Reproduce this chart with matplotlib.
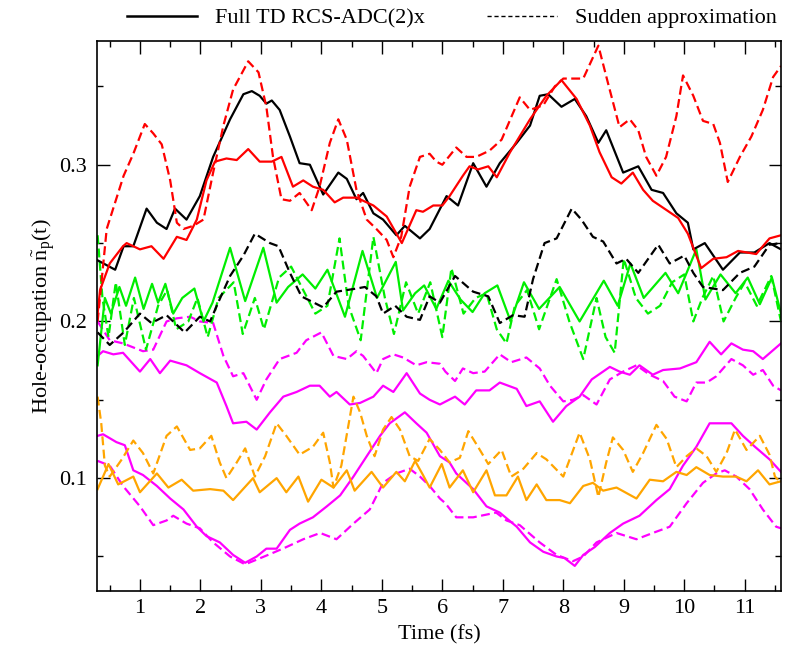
import numpy as np
import matplotlib.pyplot as plt
from matplotlib.lines import Line2D
from matplotlib.ticker import MultipleLocator

plt.rcParams['font.family'] = 'Liberation Serif'
plt.rcParams['mathtext.fontset'] = 'custom'
plt.rcParams['mathtext.rm'] = 'Liberation Serif'
plt.rcParams['mathtext.it'] = 'Liberation Serif:italic'

# (time in fs, hole occupation)
black_full = [(0.3, 0.239), (0.59, 0.233), (0.73, 0.248), (0.89, 0.248), (1.11, 0.272), (1.28, 0.263),
              (1.44, 0.259), (1.58, 0.272), (1.77, 0.265), (1.99, 0.280), (2.21, 0.305), (2.49, 0.329),
              (2.71, 0.345), (2.85, 0.347), (2.98, 0.344), (3.09, 0.339), (3.18, 0.341), (3.31, 0.335),
              (3.48, 0.318), (3.64, 0.301), (3.81, 0.300), (4.03, 0.281), (4.28, 0.295), (4.42, 0.291),
              (4.58, 0.278), (4.69, 0.282), (4.86, 0.269), (5.02, 0.265), (5.24, 0.255), (5.38, 0.261),
              (5.63, 0.253), (5.79, 0.259), (6.07, 0.280), (6.26, 0.274), (6.51, 0.301), (6.73, 0.286),
              (6.95, 0.301), (7.23, 0.314), (7.45, 0.325), (7.61, 0.344), (7.75, 0.345), (7.97, 0.337),
              (8.19, 0.342), (8.38, 0.331), (8.58, 0.314), (8.71, 0.322), (8.99, 0.295), (9.24, 0.299),
              (9.46, 0.284), (9.65, 0.282), (9.87, 0.269), (10.06, 0.263), (10.15, 0.246), (10.34, 0.250),
              (10.64, 0.233), (10.92, 0.244), (11.16, 0.244), (11.41, 0.250), (11.6, 0.246)]

black_sudden = [(0.3, 0.193), (0.5, 0.185), (0.73, 0.193), (1.0, 0.205), (1.19, 0.199), (1.44, 0.204),
                (1.74, 0.193), (1.99, 0.203), (2.16, 0.200), (2.27, 0.210), (2.49, 0.229), (2.71, 0.242),
                (2.9, 0.256), (3.15, 0.250), (3.29, 0.248), (3.48, 0.231), (3.67, 0.216), (4.03, 0.209),
                (4.25, 0.219), (4.58, 0.221), (4.72, 0.222), (4.91, 0.216), (5.02, 0.205), (5.22, 0.210),
                (5.41, 0.203), (5.63, 0.201), (5.79, 0.216), (5.96, 0.212), (6.21, 0.229), (6.51, 0.219),
                (6.76, 0.216), (6.95, 0.199), (7.17, 0.204), (7.36, 0.203), (7.50, 0.227), (7.69, 0.250),
                (7.89, 0.253), (8.14, 0.272), (8.30, 0.265), (8.49, 0.254), (8.66, 0.251), (8.88, 0.237),
                (9.04, 0.240), (9.24, 0.231), (9.57, 0.249), (9.76, 0.237), (10.0, 0.242), (10.15, 0.231),
                (10.31, 0.222), (10.64, 0.220), (10.92, 0.231), (11.16, 0.235), (11.41, 0.249), (11.6, 0.250)]

red_full = [(0.3, 0.205), (0.34, 0.220), (0.5, 0.237), (0.72, 0.248), (0.78, 0.250), (1.0, 0.246),
            (1.19, 0.248), (1.39, 0.240), (1.61, 0.254), (1.77, 0.252), (1.94, 0.265), (2.1, 0.290),
            (2.24, 0.302), (2.43, 0.304), (2.6, 0.303), (2.79, 0.310), (2.98, 0.302), (3.18, 0.302),
            (3.34, 0.305), (3.53, 0.286), (3.7, 0.290), (3.86, 0.286), (4.03, 0.284), (4.22, 0.276),
            (4.36, 0.279), (4.58, 0.279), (4.86, 0.274), (5.08, 0.267), (5.33, 0.250), (5.57, 0.271),
            (5.68, 0.270), (5.85, 0.274), (6.0, 0.274), (6.12, 0.280), (6.34, 0.293), (6.45, 0.299),
            (6.59, 0.297), (6.76, 0.299), (6.90, 0.292), (7.12, 0.308), (7.45, 0.329), (7.72, 0.344),
            (7.97, 0.354), (8.22, 0.342), (8.44, 0.325), (8.60, 0.308), (8.80, 0.292), (8.96, 0.288),
            (9.15, 0.295), (9.32, 0.284), (9.48, 0.277), (9.71, 0.271), (9.90, 0.266), (10.06, 0.256),
            (10.20, 0.242), (10.28, 0.234), (10.48, 0.240), (10.70, 0.241), (10.89, 0.245), (11.19, 0.243),
            (11.41, 0.253), (11.6, 0.255)]

red_sudden = [(0.3, 0.200), (0.45, 0.259), (0.59, 0.276), (0.73, 0.293), (0.89, 0.307), (1.08, 0.326),
              (1.22, 0.320), (1.36, 0.313), (1.5, 0.290), (1.61, 0.263), (1.72, 0.259), (1.88, 0.261),
              (2.05, 0.265), (2.21, 0.295), (2.38, 0.325), (2.54, 0.348), (2.79, 0.366), (2.96, 0.359),
              (3.09, 0.337), (3.2, 0.305), (3.34, 0.278), (3.48, 0.277), (3.64, 0.282), (3.84, 0.271),
              (3.97, 0.286), (4.14, 0.314), (4.28, 0.329), (4.42, 0.316), (4.58, 0.284), (4.75, 0.265),
              (4.91, 0.259), (5.08, 0.252), (5.19, 0.241), (5.32, 0.254), (5.46, 0.286), (5.63, 0.305),
              (5.79, 0.307), (5.9, 0.302), (6.0, 0.300), (6.23, 0.311), (6.4, 0.305), (6.56, 0.305),
              (6.78, 0.309), (6.98, 0.316), (7.28, 0.343), (7.45, 0.335), (7.67, 0.338), (7.86, 0.350),
              (8.0, 0.355), (8.33, 0.355), (8.58, 0.376), (8.74, 0.352), (8.93, 0.324), (9.10, 0.329),
              (9.24, 0.322), (9.37, 0.305), (9.54, 0.293), (9.7, 0.305), (9.87, 0.331), (9.98, 0.357),
              (10.15, 0.344), (10.31, 0.328), (10.48, 0.326), (10.59, 0.314), (10.72, 0.289), (10.92, 0.305),
              (11.11, 0.318), (11.3, 0.335), (11.47, 0.356), (11.6, 0.363)]

green_full = [(0.3, 0.172), (0.42, 0.215), (0.52, 0.205), (0.66, 0.222), (0.77, 0.210), (0.92, 0.228),
              (1.06, 0.208), (1.2, 0.224), (1.3, 0.212), (1.42, 0.224), (1.55, 0.205), (1.7, 0.215),
              (1.9, 0.221), (2.05, 0.200), (2.2, 0.212), (2.49, 0.247), (2.74, 0.213), (3.04, 0.247),
              (3.26, 0.212), (3.45, 0.222), (3.69, 0.230), (3.9, 0.221), (4.1, 0.233), (4.39, 0.203),
              (4.68, 0.245), (4.92, 0.215), (5.23, 0.238), (5.35, 0.207), (5.55, 0.218), (5.7, 0.223),
              (5.9, 0.208), (6.1, 0.226), (6.3, 0.214), (6.5, 0.206), (6.7, 0.218), (6.91, 0.223),
              (7.13, 0.200), (7.35, 0.225), (7.6, 0.208), (7.94, 0.222), (8.27, 0.200), (8.67, 0.226),
              (8.9, 0.210), (9.11, 0.237), (9.33, 0.215), (9.69, 0.231), (9.9, 0.218), (10.2, 0.246),
              (10.35, 0.214), (10.6, 0.230), (10.85, 0.218), (11.05, 0.228), (11.25, 0.211), (11.45, 0.228),
              (11.6, 0.205)]

green_sudden = [(0.3, 0.255), (0.38, 0.215), (0.48, 0.190), (0.6, 0.225), (0.75, 0.185), (0.9, 0.215),
                (1.1, 0.182), (1.3, 0.210), (1.45, 0.220), (1.6, 0.195), (1.8, 0.200), (1.95, 0.215),
                (2.12, 0.190), (2.3, 0.215), (2.55, 0.225), (2.7, 0.192), (2.9, 0.215), (3.05, 0.195),
                (3.3, 0.228), (3.5, 0.235), (3.7, 0.220), (3.9, 0.205), (4.1, 0.210), (4.3, 0.253),
                (4.45, 0.210), (4.65, 0.188), (4.86, 0.254), (5.05, 0.215), (5.2, 0.192), (5.4, 0.225),
                (5.6, 0.205), (5.8, 0.225), (6.0, 0.190), (6.15, 0.234), (6.35, 0.205), (6.55, 0.215),
                (6.73, 0.218), (6.9, 0.195), (7.06, 0.186), (7.2, 0.210), (7.4, 0.220), (7.6, 0.195),
                (7.89, 0.227), (8.1, 0.200), (8.33, 0.176), (8.55, 0.215), (8.7, 0.190), (8.85, 0.180),
                (9.0, 0.240), (9.2, 0.215), (9.4, 0.205), (9.6, 0.210), (9.8, 0.225), (10.0, 0.230),
                (10.15, 0.200), (10.3, 0.215), (10.48, 0.229), (10.65, 0.200), (10.85, 0.215), (11.0, 0.225),
                (11.2, 0.210), (11.44, 0.229), (11.6, 0.200)]

magenta_a_full = [(0.3, 0.178), (0.39, 0.181), (0.56, 0.179), (0.72, 0.180), (1.0, 0.168), (1.17, 0.176),
                  (1.33, 0.167), (1.5, 0.175), (1.77, 0.172), (1.99, 0.167), (2.27, 0.161), (2.43, 0.146),
                  (2.54, 0.135), (2.76, 0.136), (2.93, 0.131), (3.15, 0.142), (3.37, 0.152), (3.59, 0.155),
                  (3.81, 0.159), (3.97, 0.159), (4.14, 0.152), (4.25, 0.155), (4.47, 0.147), (4.64, 0.148),
                  (4.86, 0.152), (5.02, 0.159), (5.19, 0.155), (5.41, 0.167), (5.63, 0.154), (5.79, 0.150),
                  (5.96, 0.147), (6.21, 0.152), (6.37, 0.147), (6.56, 0.156), (6.78, 0.156), (6.95, 0.161),
                  (7.23, 0.157), (7.39, 0.146), (7.61, 0.149), (7.83, 0.136), (8.05, 0.146), (8.27, 0.152),
                  (8.47, 0.163), (8.77, 0.171), (8.93, 0.168), (9.10, 0.166), (9.26, 0.172), (9.48, 0.166),
                  (9.65, 0.169), (9.93, 0.170), (10.2, 0.174), (10.42, 0.187), (10.61, 0.179), (10.78, 0.186),
                  (10.97, 0.182), (11.14, 0.181), (11.3, 0.176), (11.6, 0.186)]

magenta_a_sudden = [(0.3, 0.200), (0.5, 0.188), (0.72, 0.186), (1.05, 0.181), (1.22, 0.182), (1.44, 0.200),
                    (1.61, 0.202), (1.83, 0.203), (1.99, 0.200), (2.21, 0.199), (2.38, 0.178), (2.54, 0.165),
                    (2.71, 0.167), (2.93, 0.150), (3.09, 0.163), (3.31, 0.176), (3.59, 0.180), (3.75, 0.188),
                    (4.0, 0.193), (4.2, 0.178), (4.42, 0.176), (4.58, 0.181), (4.69, 0.178), (4.91, 0.167),
                    (5.02, 0.176), (5.19, 0.179), (5.35, 0.177), (5.57, 0.172), (5.74, 0.174), (5.96, 0.173),
                    (6.05, 0.168), (6.21, 0.162), (6.34, 0.170), (6.51, 0.167), (6.70, 0.168), (6.95, 0.179),
                    (7.14, 0.174), (7.39, 0.177), (7.61, 0.170), (7.78, 0.159), (8.0, 0.149), (8.16, 0.150),
                    (8.33, 0.153), (8.55, 0.147), (8.77, 0.163), (8.99, 0.168), (9.21, 0.172), (9.43, 0.166),
                    (9.65, 0.162), (9.84, 0.152), (10.04, 0.149), (10.2, 0.161), (10.37, 0.161), (10.53, 0.165),
                    (10.78, 0.176), (10.97, 0.172), (11.14, 0.166), (11.3, 0.169), (11.47, 0.159), (11.6, 0.156)]

magenta_b_full = [(0.3, 0.127), (0.39, 0.128), (0.61, 0.123), (0.75, 0.121), (0.89, 0.105), (1.05, 0.102),
                  (1.28, 0.095), (1.5, 0.087), (1.72, 0.080), (1.94, 0.069), (2.1, 0.063), (2.32, 0.059),
                  (2.54, 0.051), (2.74, 0.046), (2.93, 0.050), (3.09, 0.055), (3.26, 0.055), (3.48, 0.067),
                  (3.64, 0.071), (3.86, 0.075), (4.09, 0.082), (4.31, 0.089), (4.53, 0.101), (4.75, 0.114),
                  (4.97, 0.127), (5.13, 0.135), (5.38, 0.142), (5.57, 0.135), (5.74, 0.129), (5.96, 0.114),
                  (6.12, 0.110), (6.23, 0.103), (6.51, 0.093), (6.73, 0.082), (6.95, 0.078), (7.23, 0.069),
                  (7.45, 0.059), (7.67, 0.053), (7.89, 0.050), (8.02, 0.049), (8.19, 0.044), (8.33, 0.051),
                  (8.52, 0.056), (8.77, 0.065), (8.99, 0.071), (9.26, 0.076), (9.54, 0.086), (9.76, 0.093),
                  (9.98, 0.108), (10.2, 0.120), (10.42, 0.135), (10.59, 0.135), (10.78, 0.135), (10.97, 0.127),
                  (11.17, 0.120), (11.41, 0.112), (11.6, 0.104)]

magenta_b_sudden = [(0.3, 0.111), (0.5, 0.108), (0.72, 0.095), (1.0, 0.082), (1.22, 0.070), (1.44, 0.073),
                    (1.55, 0.076), (1.77, 0.071), (1.99, 0.068), (2.21, 0.059), (2.49, 0.050), (2.74, 0.045),
                    (2.93, 0.048), (3.18, 0.052), (3.42, 0.056), (3.7, 0.061), (3.98, 0.065), (4.25, 0.061),
                    (4.53, 0.071), (4.8, 0.080), (5.02, 0.097), (5.24, 0.103), (5.46, 0.106), (5.63, 0.101),
                    (5.79, 0.095), (5.96, 0.087), (6.05, 0.084), (6.23, 0.075), (6.51, 0.075), (6.89, 0.078),
                    (7.06, 0.073), (7.28, 0.070), (7.61, 0.059), (7.89, 0.051), (8.16, 0.047), (8.33, 0.050),
                    (8.55, 0.059), (8.88, 0.065), (9.21, 0.061), (9.48, 0.065), (9.76, 0.069), (10.04, 0.084),
                    (10.31, 0.097), (10.53, 0.103), (10.67, 0.105), (10.86, 0.101), (11.08, 0.093), (11.3, 0.080),
                    (11.52, 0.069), (11.6, 0.068)]

orange_full = [(0.3, 0.093), (0.48, 0.109), (0.64, 0.096), (0.89, 0.101), (1.0, 0.091), (1.28, 0.103),
               (1.47, 0.094), (1.69, 0.099), (1.88, 0.092), (2.16, 0.093), (2.38, 0.092), (2.54, 0.086),
               (2.87, 0.100), (2.98, 0.091), (3.26, 0.100), (3.42, 0.091), (3.62, 0.101), (3.78, 0.085),
               (4.0, 0.099), (4.2, 0.094), (4.42, 0.105), (4.55, 0.092), (4.83, 0.104), (5.02, 0.094),
               (5.24, 0.104), (5.38, 0.098), (5.55, 0.111), (5.68, 0.102), (5.79, 0.094), (5.99, 0.109),
               (6.12, 0.094), (6.34, 0.105), (6.51, 0.091), (6.73, 0.105), (6.87, 0.089), (7.06, 0.089),
               (7.25, 0.101), (7.39, 0.086), (7.56, 0.096), (7.72, 0.086), (7.94, 0.086), (8.11, 0.084),
               (8.33, 0.095), (8.49, 0.097), (8.66, 0.092), (8.88, 0.094), (9.21, 0.087), (9.43, 0.099),
               (9.65, 0.098), (9.87, 0.104), (10.04, 0.102), (10.2, 0.107), (10.42, 0.102), (10.64, 0.101),
               (10.86, 0.101), (11.03, 0.098), (11.22, 0.105), (11.41, 0.096), (11.6, 0.098)]

orange_sudden = [(0.3, 0.152), (0.36, 0.135), (0.42, 0.108), (0.5, 0.101), (0.7, 0.112), (0.89, 0.124),
                 (1.05, 0.116), (1.22, 0.103), (1.44, 0.127), (1.61, 0.133), (1.83, 0.118), (1.99, 0.119),
                 (2.18, 0.127), (2.32, 0.110), (2.43, 0.100), (2.6, 0.110), (2.74, 0.119), (2.9, 0.101),
                 (3.07, 0.114), (3.26, 0.135), (3.42, 0.127), (3.64, 0.115), (3.86, 0.120), (4.03, 0.129),
                 (4.14, 0.110), (4.2, 0.094), (4.33, 0.108), (4.53, 0.152), (4.64, 0.142), (4.75, 0.127),
                 (4.88, 0.114), (5.02, 0.131), (5.16, 0.139), (5.3, 0.131), (5.46, 0.114), (5.6, 0.111),
                 (5.79, 0.125), (5.96, 0.118), (6.12, 0.110), (6.29, 0.113), (6.43, 0.130), (6.59, 0.120),
                 (6.76, 0.109), (6.98, 0.118), (7.14, 0.101), (7.34, 0.106), (7.56, 0.116), (7.72, 0.112),
                 (8.0, 0.101), (8.27, 0.129), (8.44, 0.112), (8.58, 0.088), (8.71, 0.110), (8.82, 0.126),
                 (8.99, 0.118), (9.15, 0.104), (9.32, 0.116), (9.54, 0.134), (9.71, 0.125), (9.87, 0.107),
                 (10.04, 0.114), (10.2, 0.119), (10.37, 0.114), (10.53, 0.104), (10.7, 0.116), (10.84, 0.131),
                 (11.03, 0.118), (11.25, 0.127), (11.41, 0.115), (11.5, 0.101), (11.6, 0.097)]

x_ticks = [1, 2, 3, 4, 5, 6, 7, 8, 9, 10, 11]
y_ticks = [0.1, 0.2, 0.3]
y_tick_labels = ['0.1', '0.2', '0.3']

dash = (0, (4, 2))
curves = [
    (magenta_b_sudden, '#ff00ff', dash), (magenta_b_full, '#ff00ff', '-'),
    (magenta_a_sudden, '#ff00ff', dash), (magenta_a_full, '#ff00ff', '-'),
    (orange_sudden, '#ffa500', dash), (orange_full, '#ffa500', '-'),
    (green_sudden, '#00ee00', dash), (green_full, '#00ee00', '-'),
    (black_sudden, 'black', dash), (black_full, 'black', '-'),
    (red_sudden, '#ff0000', dash), (red_full, '#ff0000', '-'),
]

fig = plt.figure(figsize=(7.92, 6.47), dpi=100)
ax = fig.add_axes([0.1225, 0.0866, 0.8636, 0.8501])

for data, color, ls in curves:
    t, v = np.array(data).T
    ax.plot(t, v, color=color, linestyle=ls, lw=1.6)

ax.set_xlim(0.29, 11.6)
ax.set_ylim(0.028, 0.379)
ax.set_xticks(x_ticks)
ax.set_yticks(y_ticks)
ax.set_yticklabels(y_tick_labels)
ax.xaxis.set_minor_locator(MultipleLocator(0.5))
ax.yaxis.set_minor_locator(MultipleLocator(0.05))
ax.tick_params(which='both', direction='in', top=True, right=True, labelsize=16)
ax.tick_params(which='major', length=9, width=1)
ax.tick_params(which='minor', length=4.5, width=1)
ax.tick_params(axis='x', pad=6)
ax.tick_params(axis='y', pad=7)
for s in ax.spines.values():
    s.set_linewidth(1.2)

ax.set_xlabel('Time (fs)', fontsize=16, labelpad=5)
ax.set_ylabel(r'Hole-occupation $\tilde{\mathrm{n}}_\mathrm{p}$(t)', fontsize=16, labelpad=2)

handles = [Line2D([], [], color='black', lw=1.8),
           Line2D([], [], color='black', lw=1.0, linestyle=(0, (3, 2)))]
fig.legend(handles, ['Full TD RCS-ADC(2)x', 'Sudden approximation'],
           loc='center', bbox_to_anchor=(0.571, 0.972), ncol=2, frameon=False,
           fontsize=16, handlelength=3.15, columnspacing=2.8, handletextpad=0.8)

fig.savefig('out.png', dpi=100)
